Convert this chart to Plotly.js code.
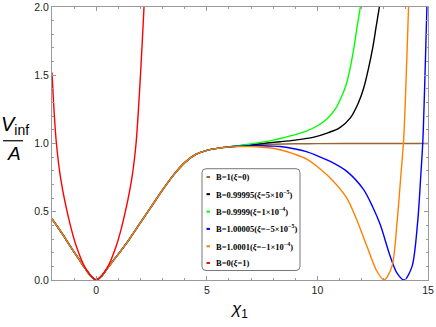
<!DOCTYPE html>
<html>
<head>
<meta charset="utf-8">
<script src="https://cdn.plot.ly/plotly-3.0.1.min.js"></script>
<style>
  html, body { margin: 0; padding: 0; background: #fff; }
  #chart { width: 436px; height: 327px; }
</style>
</head>
<body>
<div id="chart"></div>
<script>
/*  V_inf / A against chi_1 for several values of B (xi)
 *  values
 */

// shared part of every curve (they only split up after chi ~ 6)
var commonX = [-2, -1.75, -1.5, -1.25, -1, -0.75, -0.5, -0.25, 0, 0.25, 0.5, 0.75, 1, 1.5, 2, 2.5, 3, 3.5, 4, 4.5, 5, 5.5, 6];
var commonV = [0.447, 0.39, 0.33, 0.267, 0.205, 0.145, 0.085, 0.03, 0, 0.03, 0.085, 0.138, 0.19, 0.30, 0.42, 0.54, 0.66, 0.77, 0.86, 0.92, 0.95, 0.965, 0.975];

// B=1 (xi=0)
var tailX_B1 = [6.5, 7, 8, 9, 10, 12, 15];
var tailV_B1 = [0.983, 0.989, 0.995, 0.998, 0.999, 1.0, 1.0];

// B=0.99995 (xi=5e-5)
var tailX_B099995 = [6.5, 7, 7.5, 8, 8.32, 9, 9.8, 10.5, 11, 11.5, 11.86, 12.1, 12.31, 12.5, 12.65, 12.8, 12.95];
var tailV_B099995 = [0.983, 0.991, 0.999, 1.008, 1.013, 1.025, 1.045, 1.08, 1.115, 1.19, 1.30, 1.41, 1.55, 1.70, 1.85, 2.0, 2.2];

// B=0.9999 (xi=1e-4)
var tailX_B09999 = [6.5, 7, 7.5, 8, 8.32, 9, 9.5, 10, 10.43, 10.8, 11.03, 11.3, 11.49, 11.65, 11.8, 11.94, 12.05];
var tailV_B09999 = [0.985, 0.997, 1.01, 1.025, 1.037, 1.065, 1.09, 1.13, 1.18, 1.25, 1.32, 1.43, 1.56, 1.70, 1.86, 2.0, 2.15];

// B=1.00005 (xi=-5e-5)
var tailX_B100005 = [6.5, 7, 7.5, 8, 8.32, 9, 9.5, 10, 10.58, 11.33, 12.09, 12.5, 12.84, 13.29, 13.6, 13.93, 14.28, 14.53, 14.68, 14.77, 14.95];
var tailV_B100005 = [0.98, 0.984, 0.984, 0.981, 0.978, 0.96, 0.94, 0.91, 0.869, 0.796, 0.662, 0.535, 0.406, 0.174, 0.05, 0.0, 0.1, 0.42, 0.78, 1.03, 2.0];

// B=1.0001 (xi=-1e-4)
var tailX_B10001 = [6.5, 7, 7.5, 8, 8.32, 9, 9.52, 10, 10.58, 11.33, 11.78, 12.24, 12.69, 13.02, 13.37, 13.6, 13.78, 13.9, 14.12];
var tailV_B10001 = [0.977, 0.977, 0.973, 0.965, 0.954, 0.92, 0.886, 0.83, 0.747, 0.60, 0.44, 0.247, 0.064, 0.0, 0.1, 0.42, 0.78, 1.03, 2.0];

// B=0 (xi=1)
var redX = [-2, -1.9, -1.8, -1.6, -1.2, -0.9, -0.5, 0, 0.5, 0.9, 1.2, 1.6, 1.8, 2.0, 2.16, 2.25];
var redV = [1.52, 1.22, 1.0, 0.735, 0.42, 0.247, 0.09, 0, 0.09, 0.247, 0.42, 0.735, 1.0, 1.5, 2.0, 2.3];

var names = [
  'B=1(<i>ξ</i>=0)',
  'B=0.99995(<i>ξ</i>=5×10<sup>−5</sup>)',
  'B=0.9999(<i>ξ</i>=1×10<sup>−4</sup>)',
  'B=1.00005(<i>ξ</i>=−5×10<sup>−5</sup>)',
  'B=1.0001(<i>ξ</i>=−1×10<sup>−4</sup>)',
  'B=0(<i>ξ</i>=1)'
];
var colors = ['#996633', '#000000', '#00ff00', '#0000ff', '#ff8000', '#ff0000'];

var xs = [
  commonX.concat(tailX_B1),
  commonX.concat(tailX_B099995),
  commonX.concat(tailX_B09999),
  commonX.concat(tailX_B100005),
  commonX.concat(tailX_B10001),
  redX
];
var ys = [
  commonV.concat(tailV_B1),
  commonV.concat(tailV_B099995),
  commonV.concat(tailV_B09999),
  commonV.concat(tailV_B100005),
  commonV.concat(tailV_B10001),
  redV
];

//plot box in pixels (436x327 page)
var L = 52, R = 428, T = 7, B = 280.5;
function px(x) { return (x - L) / (R - L); }
function py(y) { return (B - y) / (B - T); }

var data = [];
for (var i = 0; i < names.length; i++) {
  data.push({
    x: xs[i],
    y: ys[i],
    type: 'scatter',
    mode: 'lines',
    name: names[i],
    line: {color: colors[i], width: 1.4, shape: 'spline', smoothing: 0.8},
    hoverinfo: 'skip'
  });
}

/****************** legend (hand made, rounded box) ******************/
var boxL = px(202), boxR = px(300), boxT = py(169), boxB = py(271);
var rx = 4 / (R - L), ry = 4 / (B - T);
var boxPath = 'M ' + (boxL + rx) + ' ' + boxT +
  ' L ' + (boxR - rx) + ' ' + boxT + ' Q ' + boxR + ' ' + boxT + ' ' + boxR + ' ' + (boxT - ry) +
  ' L ' + boxR + ' ' + (boxB + ry) + ' Q ' + boxR + ' ' + boxB + ' ' + (boxR - rx) + ' ' + boxB +
  ' L ' + (boxL + rx) + ' ' + boxB + ' Q ' + boxL + ' ' + boxB + ' ' + boxL + ' ' + (boxB + ry) +
  ' L ' + boxL + ' ' + (boxT - ry) + ' Q ' + boxL + ' ' + boxT + ' ' + (boxL + rx) + ' ' + boxT + ' Z';

var shapes = [{
  type: 'path', xref: 'paper', yref: 'paper', path: boxPath,
  fillcolor: '#ffffff', line: {color: '#777777', width: 1}, layer: 'above'
}];
var annotations = [];
var rowY = [177.3, 194.5, 212, 229.3, 246.7, 263.5];
for (var k = 0; k < names.length; k++) {
  shapes.push({
    type: 'line', xref: 'paper', yref: 'paper',
    x0: px(206.5), x1: px(210), y0: py(rowY[k]), y1: py(rowY[k]),
    line: {color: colors[k], width: 2}, layer: 'above'
  });
  annotations.push({
    xref: 'paper', yref: 'paper', x: px(214), y: py(rowY[k]),
    xanchor: 'left', yanchor: 'middle', showarrow: false,
    text: '<b>' + names[k] + '</b>',
    font: {family: 'Liberation Serif, Times New Roman, serif', size: 8.5, color: '#000'}
  });
}

//y-axis title as a fraction V_inf / A
annotations.push({
  xref: 'paper', yref: 'paper', x: px(15), y: py(126), xanchor: 'center', yanchor: 'middle',
  showarrow: false, text: '<i>V</i><sub>inf</sub>',
  font: {family: 'Liberation Sans, Arial, sans-serif', size: 20, color: '#000'}
});
annotations.push({
  xref: 'paper', yref: 'paper', x: px(14), y: py(154), xanchor: 'center', yanchor: 'middle',
  showarrow: false, text: '<i>A</i>',
  font: {family: 'Liberation Sans, Arial, sans-serif', size: 19, color: '#000'}
});
shapes.push({
  type: 'line', xref: 'paper', yref: 'paper',
  x0: px(3), x1: px(23), y0: py(141), y1: py(141),
  line: {color: '#000', width: 1.2}
});

var axisCommon = {
  showgrid: false, zeroline: false,
  showline: true, linecolor: '#9a9a9a', linewidth: 1, mirror: 'allticks',
  ticks: 'inside', ticklen: 4, tickcolor: '#9a9a9a', tickwidth: 1,
  tickfont: {family: 'Liberation Sans, Arial, sans-serif', size: 10.5, color: '#222'}
};

var layout = {
  width: 436, height: 327,
  margin: {l: L, r: 436 - R, t: T, b: 327 - B},
  paper_bgcolor: '#fff', plot_bgcolor: '#fff',
  showlegend: false,
  xaxis: Object.assign({}, axisCommon, {
    range: [-2, 15], tick0: 0, dtick: 5,
    minor: {dtick: 1, ticks: 'inside', ticklen: 2, tickcolor: '#9a9a9a'},
    title: {text: '<i>χ</i><sub>1</sub>', standoff: 7,
      font: {family: 'Liberation Sans, Arial, sans-serif', size: 17, color: '#000'}}
  }),
  yaxis: Object.assign({}, axisCommon, {
    range: [0, 2], tick0: 0, dtick: 0.5, tickformat: '.1f',
    minor: {dtick: 0.1, ticks: 'inside', ticklen: 2, tickcolor: '#9a9a9a'}
  }),
  shapes: shapes,
  annotations: annotations
};

Plotly.newPlot('chart', data, layout, {staticPlot: true});
</script>
</body>
</html>
